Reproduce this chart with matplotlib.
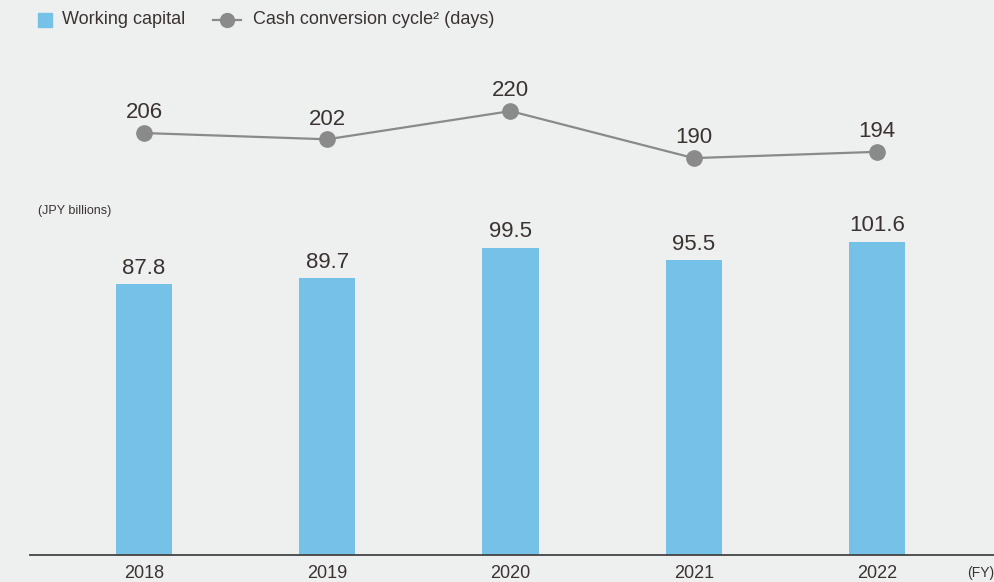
import numpy as np
import matplotlib.pyplot as plt
from matplotlib.patches import Rectangle
from matplotlib.lines import Line2D

years = ['2018', '2019', '2020', '2021', '2022']
working_capital = [87.8, 89.7, 99.5, 95.5, 101.6]
ccc_days = [206, 202, 220, 190, 194]

bar_color = '#76c1e7'
line_color = '#8a8a8a'
text_color = '#3a3331'
bg = '#eef0f0'

plt.rcParams['font.family'] = ['Liberation Sans', 'DejaVu Sans']

fig = plt.figure(figsize=(9.95, 5.82), dpi=100, facecolor=bg)
W, H = 995, 582
ax = fig.add_axes([30 / W, (H - 555) / H, 1 - 30 / W, 555 / H])
ax.set_facecolor('none')

x = np.arange(len(years))
ax.bar(x, working_capital, width=0.306, color=bar_color, zorder=2)
for xi, v in zip(x, working_capital):
    ax.annotate(f'{v:.1f}', (xi, v), xytext=(0, 4), textcoords='offset points',
                ha='center', va='bottom', fontsize=16, color=text_color)

ax.set_xlim(-0.622, 4.644)
ax.set_ylim(0, 179.9)
ax.set_xticks(x)
ax.set_xticklabels(years, fontsize=13, color=text_color)
ax.tick_params(axis='x', length=0, pad=7)
ax.set_yticks([])
for s in ['top', 'right', 'left']:
    ax.spines[s].set_visible(False)
ax.spines['bottom'].set_color('#444444')
ax.spines['bottom'].set_linewidth(1.3)

ax2 = ax.twinx()
ax2.set_ylim(-63.3, 290.9)
ax2.plot(x, ccc_days, color=line_color, lw=1.6, marker='o', ms=11,
         markerfacecolor=line_color, markeredgecolor=line_color, zorder=3)
for xi, v in zip(x, ccc_days):
    ax2.annotate(f'{v}', (xi, v), xytext=(0, 7), textcoords='offset points',
                 ha='center', va='bottom', fontsize=16, color=text_color)
ax2.axis('off')

# unit labels
fig.text(38 / W, 1 - 211 / H, '(JPY billions)', fontsize=9, color=text_color,
         va='center', ha='left')
fig.text(994 / W, 1 - 573 / H, '(FY)', fontsize=10, color=text_color,
         va='center', ha='right')

# legend
fig.patches.append(Rectangle((38 / W, 1 - 27 / H), 14 / W, 14 / H,
                             transform=fig.transFigure, color=bar_color))
fig.text(62 / W, 1 - 20 / H, 'Working capital', fontsize=13, color=text_color,
         va='center', ha='left')
fig.add_artist(Line2D([213 / W, 241 / W], [1 - 20 / H, 1 - 20 / H],
                      transform=fig.transFigure, color=line_color, lw=1.6))
fig.add_artist(Line2D([227 / W], [1 - 20 / H], transform=fig.transFigure,
                      color=line_color, marker='o', ms=10))
fig.text(253 / W, 1 - 20 / H, 'Cash conversion cycle² (days)', fontsize=13,
         color=text_color, va='center', ha='left')

fig.savefig('out.png', dpi=100, facecolor=bg)
